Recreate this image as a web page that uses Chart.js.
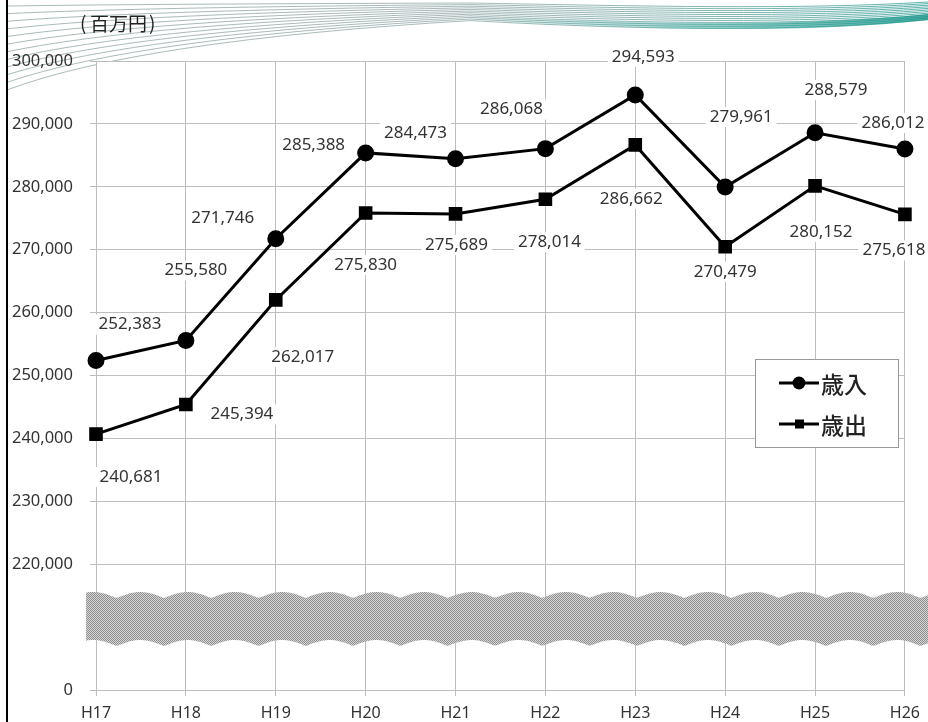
<!DOCTYPE html>
<html>
<head>
<meta charset="utf-8">
<script src="https://cdn.jsdelivr.net/npm/chart.js@4.4.1/dist/chart.umd.min.js"></script>
<style>
  html, body { margin: 0; padding: 0; background: #fff; }
  #wrap { width: 928px; height: 722px; }
</style>
</head>
<body>
<div id="wrap"><canvas id="chart" width="928" height="722"></canvas></div>
<script>
// data
const years = ['H17', 'H18', 'H19', 'H20', 'H21', 'H22', 'H23', 'H24', 'H25', 'H26'];
const revenue = [252383, 255580, 271746, 285388, 284473, 286068, 294593, 279961, 288579, 286012];
const expenditure = [240681, 245394, 262017, 275830, 275689, 278014, 286662, 270479, 280152, 275618];
const seriesNames = ['歳入', '歳出'];
const unitLabel = ['(', '百万円', ')'];
const axisFloorLabel = '0';

// where each value label sits relative to its point (px)
const revenueLabelShift = [[34, -36], [10, -70], [-53, -21], [-52, -8], [-40, -26], [-34, -39], [8, -38], [16, -70], [21, -43], [-12, -26]];
const expenditureLabelShift = [[35, 43], [56, 10], [27, 57], [0, 52], [1, 31], [4, 43], [-4, 54], [0, 25], [6, 46], [-11, 36]];

const numFamily = '"Noto Sans", "DejaVu Sans", sans-serif';
const jpFont = '"Noto Sans CJK JP", "Noto Sans", sans-serif';
const textColor = '#333';
const gridColor = '#bdbdbd';

// decorative swooshes at the top + white plot background
const decor = {
  id: 'decor',
  beforeDraw(chart) {
    const ctx = chart.ctx;
    ctx.save();
    ctx.lineWidth = 0.8;
    for (let i = 0; i < 12; i++) {
      ctx.strokeStyle = 'rgba(110,140,140,0.75)';
      ctx.beginPath();
      ctx.moveTo(8, 6 + i * 7.6);
      ctx.quadraticCurveTo(140, 4 + i * 3.3, 470, 3 + i * 1.6);
      ctx.stroke();
      const g = ctx.createLinearGradient(470, 0, 928, 0);
      g.addColorStop(0, 'rgba(110,140,140,0.75)');
      g.addColorStop(1, 'rgba(30,150,140,0.9)');
      ctx.strokeStyle = g;
      ctx.beginPath();
      ctx.moveTo(470, 3 + i * 1.6);
      ctx.bezierCurveTo(640, 6 + i * 2.2, 800, 10 + i * 2.0, 928, 2 + i * 1.6);
      ctx.stroke();
    }
    // teal band along the lower edge of the swoosh
    const tg = ctx.createLinearGradient(450, 0, 928, 0);
    tg.addColorStop(0, 'rgba(60,170,160,0)');
    tg.addColorStop(0.5, 'rgba(60,170,160,0.45)');
    tg.addColorStop(1, 'rgba(30,150,140,0.8)');
    ctx.fillStyle = tg;
    ctx.beginPath();
    ctx.moveTo(470, 20);
    ctx.bezierCurveTo(640, 30, 800, 34, 928, 20);
    ctx.lineTo(928, 14);
    ctx.bezierCurveTo(800, 27, 640, 24, 470, 16);
    ctx.closePath();
    ctx.fill();
    const a = chart.chartArea;
    ctx.fillStyle = '#fff';
    ctx.fillRect(a.left, a.top, a.right - a.left, a.bottom - a.top);
    // frame line on the left
    ctx.fillStyle = '#000';
    ctx.fillRect(6, 0, 2, 722);
    // unit label
    ctx.fillStyle = '#222';
    ctx.font = '19px ' + jpFont;
    ctx.textBaseline = 'middle';
    ctx.textAlign = 'left';
    ctx.fillText(unitLabel[0], 80, 23);
    ctx.fillText(unitLabel[1], 90, 24);
    ctx.fillText(unitLabel[2], 149, 23);
    ctx.restore();
  }
};

// value labels with white backing, drawn under the lines
const valueLabels = {
  id: 'valueLabels',
  beforeDatasetsDraw(chart) {
    const ctx = chart.ctx;
    ctx.save();
    ctx.font = '17px ' + numFamily;
    ctx.textAlign = 'center';
    ctx.textBaseline = 'middle';
    const shifts = [revenueLabelShift, expenditureLabelShift];
    chart.data.datasets.forEach((ds, di) => {
      chart.getDatasetMeta(di).data.forEach((pt, i) => {
        const txt = ds.data[i].toLocaleString('en-US');
        const x = pt.x + shifts[di][i][0];
        const y = pt.y + shifts[di][i][1];
        const w = ctx.measureText(txt).width;
        ctx.fillStyle = '#fff';
        ctx.fillRect(x - w / 2 - 4, y - 10, w + 8, 20);
        ctx.fillStyle = textColor;
        ctx.fillText(txt, x, y);
      });
    });
    ctx.restore();
  }
};

// axis break band and legend
const extras = {
  id: 'extras',
  afterDraw(chart) {
    const ctx = chart.ctx;
    ctx.save();

    // wavy break band
    const pc = document.createElement('canvas');
    pc.width = 2; pc.height = 2;
    const p = pc.getContext('2d');
    p.fillStyle = '#d6d6d6'; p.fillRect(0, 0, 2, 2);
    p.fillStyle = '#8e8e8e'; p.fillRect(0, 0, 1, 1); p.fillRect(1, 1, 1, 1);
    const wave = x => 6 * Math.abs(Math.cos(Math.PI * (x - 93) / 47.3));
    ctx.fillStyle = ctx.createPattern(pc, 'repeat');
    ctx.beginPath();
    ctx.moveTo(86, 598 - wave(86));
    for (let x = 86; x <= 928; x += 2) ctx.lineTo(x, 598 - wave(x));
    for (let x = 928; x >= 86; x -= 2) ctx.lineTo(x, 646 - wave(x));
    ctx.closePath();
    ctx.fill();

    // legend
    const lx = 755, ly = 359, lw = 143, lh = 88;
    ctx.fillStyle = '#fff';
    ctx.fillRect(lx, ly, lw, lh);
    ctx.strokeStyle = '#999';
    ctx.lineWidth = 1;
    ctx.strokeRect(lx + 0.5, ly + 0.5, lw, lh);
    ctx.textBaseline = 'middle';
    ctx.textAlign = 'left';
    chart.data.datasets.forEach((ds, di) => {
      const y = ly + 24 + di * 41;
      ctx.strokeStyle = '#000';
      ctx.lineWidth = 3;
      ctx.beginPath();
      ctx.moveTo(lx + 24, y);
      ctx.lineTo(lx + 64, y);
      ctx.stroke();
      ctx.fillStyle = '#000';
      if (ds.pointStyle === 'circle') {
        ctx.beginPath();
        ctx.arc(lx + 44, y, 6.5, 0, Math.PI * 2);
        ctx.fill();
      } else {
        ctx.fillRect(lx + 40, y - 4.5, 9, 9);
      }
      ctx.fillStyle = '#222';
      ctx.font = '500 23px ' + jpFont;
      ctx.fillText(ds.label, lx + 66, y + 1);
    });
    ctx.restore();
  }
};

new Chart(document.getElementById('chart'), {
  type: 'line',
  plugins: [decor, valueLabels, extras],
  data: {
    labels: years,
    datasets: [{
      label: seriesNames[0],
      data: revenue,
      borderColor: '#000',
      backgroundColor: '#000',
      borderWidth: 3,
      pointStyle: 'circle',
      pointRadius: 7,
      pointHoverRadius: 7,
      tension: 0,
    },
    {
      label: seriesNames[1],
      data: expenditure,
      borderColor: '#000',
      backgroundColor: '#000',
      borderWidth: 3,
      pointStyle: 'rect',
      pointRadius: 7.5,
      pointHoverRadius: 7.5,
      tension: 0,
    }]
  },
  options: {
    responsive: false,
    animation: false,
    devicePixelRatio: 1,
    layout: {
      padding: { top: 61, right: 23, left: 0, bottom: 0 }
    },
    plugins: {
      legend: { display: false },
      tooltip: { enabled: false },
    },
    scales: {
      x: {
        offset: false,
        afterFit(scale) { scale.height = 32; },
        grid: {
          color: gridColor,
          tickLength: 6,
          offset: false,
        },
        border: { color: gridColor },
        ticks: {
          color: textColor,
          font: { family: numFamily, size: 16 },
          padding: 8,
          maxRotation: 0,
          autoSkip: false,
        },
      },
      y: {
        min: 200000,
        max: 300000,
        afterFit(scale) { scale.width = 96; },
        grid: {
          color: gridColor,
          tickLength: 6,
        },
        border: { color: gridColor },
        ticks: {
          stepSize: 10000,
          color: textColor,
          padding: 17,
          font: { family: numFamily, size: 16.5 },
          callback: function (value) {
            if (value === 200000) return axisFloorLabel;
            if (value === 210000) return null;
            return value.toLocaleString('en-US');
          }
        },
      },
    }
  },
});
</script>
</body>
</html>
